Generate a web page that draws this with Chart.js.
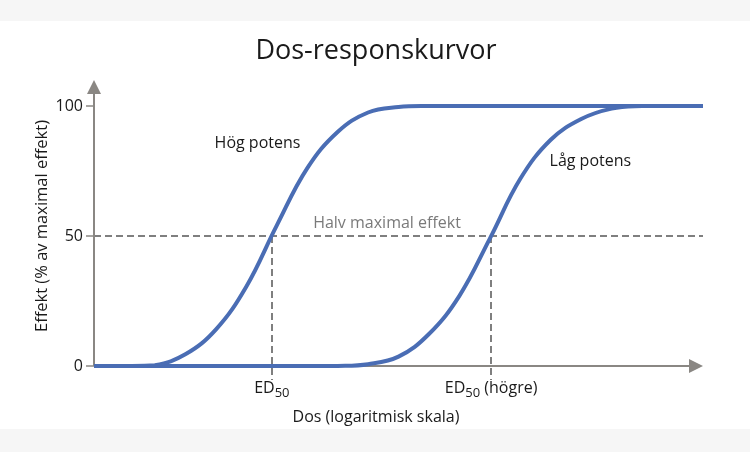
<!DOCTYPE html>
<html>
<head>
<meta charset="utf-8">
<script src="https://cdn.jsdelivr.net/npm/chart.js@4.4.0/dist/chart.umd.min.js"></script>
<style>
    html, body { margin: 0; padding: 0; background: #fff; }
    #wrap { width: 750px; height: 452px; }
</style>
</head>
<body>
<div id="wrap"><canvas id="doseChart" width="750" height="452"></canvas></div>
<script>
// log-dose positions (arbitrary units) and effect in % of max
const doseLog = [0, 0.5, 1, 1.5, 2, 2.5, 3, 3.5, 4, 4.5, 5, 5.5, 6, 6.5, 7, 7.5, 8, 8.5, 9, 9.5, 10];
const highPotency = [0, 0, 0.3, 4.5, 14, 30.5, 54, 76, 90, 97.5, 99.6, 100, 100, 100, 100, 100, 100, 100, 100, 100, 100];
const lowPotency = [0, 0, 0, 0, 0, 0, 0, 0, 0, 0.7, 3.6, 12.3, 27, 49, 72, 87, 95, 99, 100, 100, 100];
const yTicks = [0, 50, 100];
const ed50Values = [2.92, 6.52];
const ed50Suffix = ['', ' (högre)'];
const halfMax = 50;

const seriesNames = ['Hög potens', 'Låg potens'];
const seriesLabelPos = [[1.98, 84], [7.48, 77]];

const FONT = '"Open Sans", "Noto Sans", sans-serif';
const AXIS = '#8a8783';
const DASH = '#7f7f7f';
const TEXT = '#1a1a1a';
const BLUE = '#4a6db4';

const toPoints = ys => doseLog.map((x, i) => ({ x: x, y: ys[i] }));

const drawing = {
    id: 'drawing',
    beforeDraw(chart) {
        const ctx = chart.ctx;
        ctx.save();
        ctx.fillStyle = '#f6f6f6';
        ctx.fillRect(0, 0, chart.width, 21);
        ctx.fillRect(0, 429, chart.width, chart.height - 429);
        ctx.restore();
    },
    beforeDatasetsDraw(chart) {
        const ctx = chart.ctx;
        const xs = chart.scales.x, ys = chart.scales.y;
        const left = xs.left, right = xs.right, bottom = ys.bottom;
        ctx.save();

        // dashed helper lines
        ctx.strokeStyle = DASH;
        ctx.lineWidth = 2;
        ctx.setLineDash([7, 4]);
        const yHalf = ys.getPixelForValue(halfMax);
        ctx.beginPath();
        ctx.moveTo(left, yHalf);
        ctx.lineTo(right, yHalf);
        ctx.stroke();
        ed50Values.forEach(v => {
            const px = Math.round(xs.getPixelForValue(v));
            ctx.beginPath();
            ctx.moveTo(px, yHalf);
            ctx.lineTo(px, bottom + 14);
            ctx.stroke();
        });
        ctx.setLineDash([]);

        // axes with arrows
        ctx.strokeStyle = AXIS;
        ctx.fillStyle = AXIS;
        ctx.lineWidth = 2;
        ctx.beginPath();
        ctx.moveTo(left, bottom);
        ctx.lineTo(left, ys.top - 13);
        ctx.moveTo(left, bottom);
        ctx.lineTo(right - 14, bottom);
        ctx.stroke();
        ctx.beginPath();
        ctx.moveTo(left, ys.top - 26);
        ctx.lineTo(left - 7, ys.top - 12);
        ctx.lineTo(left + 7, ys.top - 12);
        ctx.closePath();
        ctx.fill();
        ctx.beginPath();
        ctx.moveTo(right, bottom);
        ctx.lineTo(right - 14, bottom - 7);
        ctx.lineTo(right - 14, bottom + 7);
        ctx.closePath();
        ctx.fill();

        // y ticks
        ctx.lineWidth = 1.5;
        yTicks.forEach(t => {
            const py = ys.getPixelForValue(t);
            ctx.beginPath();
            ctx.moveTo(left - 8, py);
            ctx.lineTo(left, py);
            ctx.stroke();
        });
        ctx.restore();
    },
    afterDatasetsDraw(chart) {
        const ctx = chart.ctx;
        const xs = chart.scales.x, ys = chart.scales.y;
        ctx.save();

        // title
        ctx.fillStyle = TEXT;
        ctx.textAlign = 'center';
        ctx.textBaseline = 'alphabetic';
        ctx.font = '27px ' + FONT;
        ctx.fillText('Dos-responskurvor', 376, 59);

        // y tick labels
        ctx.font = '16px ' + FONT;
        ctx.textAlign = 'right';
        ctx.textBaseline = 'middle';
        yTicks.forEach(t => ctx.fillText(String(t), xs.left - 11, ys.getPixelForValue(t)));

        // x tick labels ED50
        ctx.textBaseline = 'alphabetic';
        ed50Values.forEach((v, i) => {
            const px = xs.getPixelForValue(v);
            ctx.font = '16px ' + FONT;
            const wEd = ctx.measureText('ED').width;
            const wSuf = ctx.measureText(ed50Suffix[i]).width;
            ctx.font = '13px ' + FONT;
            const wSub = ctx.measureText('50').width;
            let x0 = px - (wEd + wSub + wSuf) / 2;
            ctx.textAlign = 'left';
            ctx.font = '16px ' + FONT;
            ctx.fillText('ED', x0, 393);
            ctx.font = '13px ' + FONT;
            ctx.fillText('50', x0 + wEd, 397);
            ctx.font = '16px ' + FONT;
            ctx.fillText(ed50Suffix[i], x0 + wEd + wSub, 393);
        });

        // axis titles
        ctx.textAlign = 'center';
        ctx.font = '16px ' + FONT;
        ctx.fillText('Dos (logaritmisk skala)', 376, 422);
        ctx.save();
        ctx.translate(47, 226);
        ctx.rotate(-Math.PI / 2);
        ctx.font = '16.5px ' + FONT;
        ctx.fillText('Effekt (% av maximal effekt)', 0, 0);
        ctx.restore();

        // annotations
        ctx.textAlign = 'left';
        seriesNames.forEach((name, i) => {
            const p = seriesLabelPos[i];
            ctx.fillText(name, xs.getPixelForValue(p[0]), ys.getPixelForValue(p[1]));
        });
        ctx.fillStyle = '#7a7a7a';
        ctx.textAlign = 'center';
        ctx.fillText('Halv maximal effekt', 387, ys.getPixelForValue(halfMax) - 8);
        ctx.restore();
    }
};

new Chart(document.getElementById('doseChart'), {
    type: 'line',
    data: {
        datasets: [
            {
                label: seriesNames[0],
                data: toPoints(highPotency),
                borderColor: BLUE,
                borderWidth: 4,
                pointRadius: 0,
                tension: 0.4,
                clip: false
            },
            {
                label: seriesNames[1],
                data: toPoints(lowPotency),
                borderColor: BLUE,
                borderWidth: 4,
                pointRadius: 0,
                tension: 0.4,
                clip: false
            }
        ]
    },
    options: {
        responsive: false,
        animation: false,
        layout: {
            padding: { left: 94, right: 47, top: 106, bottom: 86 }
        },
        plugins: {
            legend: { display: false },
            title: { display: false },
            tooltip: { enabled: false }
        },
        scales: {
            x: { type: 'linear', min: 0, max: 10, display: false },
            y: { min: 0, max: 100, display: false }
        }
    },
    plugins: [drawing]
});
</script>
</body>
</html>
